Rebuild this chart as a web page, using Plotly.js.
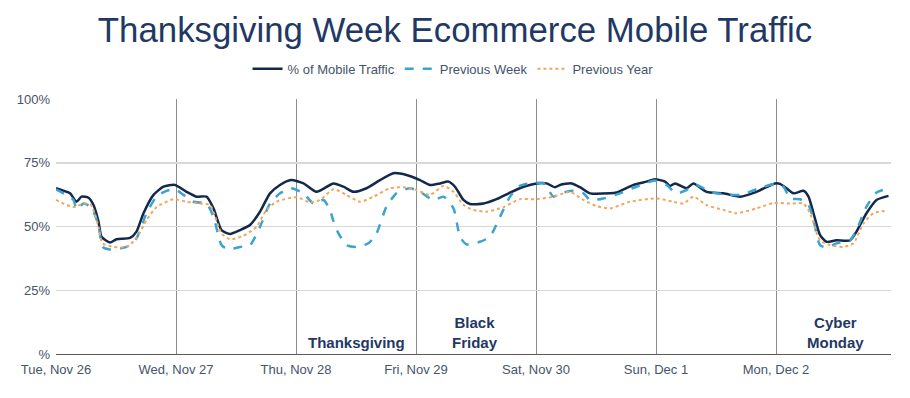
<!DOCTYPE html>
<html>
<head>
<meta charset="utf-8">
<script src="https://cdn.plot.ly/plotly-3.0.1.min.js"></script>
<style>html,body{margin:0;padding:0;background:#fff;}#chart{width:910px;height:398px;}</style>
</head>
<body>
<div id="chart"></div>
<script>
// hours since Tue, Nov 26 00:00
const dayLabels = ["Tue, Nov 26","Wed, Nov 27","Thu, Nov 28","Fri, Nov 29","Sat, Nov 30","Sun, Dec 1","Mon, Dec 2"];
const dayTicks = [0,24,48,72,96,120,144];
const yTickVals = [0,25,50,75,100];
const yTickText = ["%","25%","50%","75%","100%"];

const mobileHours = [0,2.8,4.1,5.1,6.5,7.5,8.5,9.1,10.8,12.1,14.8,16.1,17.5,19.5,21.5,23.8,26.1,28.1,30.1,31.5,33.1,34.8,36.8,38.8,40.8,42.8,44.8,47,49.5,52.1,55.5,57.5,59.5,62.1,64.8,67.5,70.1,72.8,74.8,76.8,78.5,79.8,81.5,82.8,85.5,88.1,90.8,93.5,96.1,98.1,99.8,100.8,103.1,104.8,106.8,110.8,112.1,115.5,118.1,119.8,121.8,122.8,123.8,126.1,127.5,130.1,133.5,136.8,140.1,143.8,144.8,146.1,147.5,149.5,150.5,151.5,152.8,154.1,156.1,158.8,160.1,162.1,164.1,166.5];
const mobileValues = [65.0,63.0,59.7,61.7,61.3,58.4,51.9,46.0,43.7,45.0,45.5,48.0,55.2,62.4,65.6,66.3,63.6,61.7,61.7,57.1,48.6,47.1,48.6,50.6,55.8,63.0,66.3,68.2,66.9,63.6,66.9,65.6,63.6,65.0,68.2,70.9,70.2,68.2,66.3,66.9,67.6,65.6,60.4,58.8,59.0,60.7,63.3,65.6,66.9,66.9,65.4,66.3,66.9,65.4,63.0,63.0,63.3,66.3,67.6,68.5,67.6,65.9,66.9,65.0,66.9,63.6,63.0,61.7,63.6,66.9,66.7,65.0,63.0,64.0,61.7,55.2,46.7,44.0,44.6,44.6,48.0,55.2,60.4,62.0];

const prevWeekHours = [0,3.5,4.1,5.5,7,8.5,9.3,10.8,14.1,16.1,18.1,20.1,22.1,23.8,25.5,27.5,30.1,31.5,33.1,34.5,36.8,38.8,40.8,42.8,44.8,47,49.5,51.5,53.5,54.8,55.5,56.5,58.1,60.1,62.5,64.1,66.1,68.1,70.8,72.8,75.5,77.5,79.5,80.8,82.1,84.8,86.8,88.8,90.8,92.8,94.8,97.5,99.5,100.8,103.5,105.5,106.8,109.5,112.8,116.1,119.8,122.1,124.1,126.1,128.1,130.8,133.5,136.8,140.1,143.8,145.5,146.8,148.8,150.5,151.5,152.8,154.1,156.1,158.8,160.1,162.1,164.1,166.5];
const prevWeekValues = [64.6,60.4,56.7,59.0,57.6,50.6,42.0,41.0,42.0,45.4,55.2,61.7,64.0,64.6,62.4,59.7,59.0,53.8,42.7,41.0,42.0,42.7,49.9,59.0,63.0,65.0,63.0,59.0,60.4,56.5,52.0,47.3,42.7,42.0,43.4,47.3,57.8,63.0,65.0,63.6,60.4,61.7,57.1,46.0,43.0,44.0,46.0,53.8,61.7,65.9,66.9,66.9,61.7,63.0,64.0,63.0,60.4,61.0,63.0,65.6,68.0,66.3,63.0,64.3,66.3,63.6,62.7,62.4,64.6,66.7,65.6,61.0,60.7,58.4,52.5,42.7,41.8,43.4,44.6,48.6,57.8,63.3,65.0];

const prevYearHours = [0,3.5,5.5,7,8.5,9.3,11.5,14.1,16.1,18.1,20.1,23.5,26.1,28.8,30.8,33.1,34.8,37.5,40.1,42.1,44.1,48.1,50.8,52.8,55.5,58.1,60.8,63.5,66.8,69.5,72.1,74.8,77.5,79.5,81.5,83.5,86.1,89.5,92.8,96.1,99.5,102.8,105.5,108.1,110.8,114.8,120.1,123.5,125.5,127.5,130.1,133.5,136.1,140.1,143.5,146.8,149.5,150.8,152.8,154.8,157.5,159.5,161.5,163.5,166.1];
const prevYearValues = [60.4,57.6,59.0,58.4,49.9,43.4,42.0,42.0,45.4,52.5,57.6,60.7,59.7,59.0,58.4,47.3,45.0,46.4,49.9,56.5,59.7,61.5,59.5,60.4,64.6,62.4,59.7,61.7,65.0,65.4,64.3,62.4,65.9,63.6,58.4,56.5,55.8,57.6,60.7,60.7,61.7,63.6,60.4,58.0,57.1,59.7,61.0,59.7,59.0,61.7,58.4,56.5,55.2,57.1,59.2,59.0,59.0,55.2,44.6,42.7,42.0,43.4,51.2,55.2,56.2];

const navy = "#13294b";
const textBlue = "#1f3864";
const axisText = "#44546a";
const FONT = "Liberation Sans, Arial, sans-serif";

const traces = [
  {x: mobileHours, y: mobileValues, name: "% of Mobile Traffic", type: "scatter", mode: "lines",
   line: {color: navy, width: 2.5, shape: "spline", smoothing: 0.6}},
  {x: prevWeekHours, y: prevWeekValues, name: "Previous Week", type: "scatter", mode: "lines",
   line: {color: "#3ba3d0", width: 2.5, dash: "dash", shape: "spline", smoothing: 0.6}},
  {x: prevYearHours, y: prevYearValues, name: "Previous Year", type: "scatter", mode: "lines",
   line: {color: "#f2a65a", width: 2, dash: "dot", shape: "spline", smoothing: 0.6}}
];

const layout = {
  width: 910, height: 398,
  margin: {l: 56, r: 19, t: 99, b: 44},
  paper_bgcolor: "#ffffff", plot_bgcolor: "#ffffff",
  font: {family: FONT, color: axisText, size: 13},
  title: {text: "Thanksgiving Week Ecommerce Mobile Traffic", font: {family: FONT, size: 34.8, color: textBlue},
          x: 0.5, xanchor: "center", y: 0.925, yanchor: "middle", yref: "container"},
  showlegend: true,
  legend: {orientation: "h", x: 0.4755, xanchor: "center", y: 1.118, yanchor: "middle",
           font: {family: FONT, size: 13, color: axisText}, traceorder: "normal"},
  xaxis: {range: [0, 167], tickmode: "array", tickvals: dayTicks, ticktext: dayLabels,
          showgrid: true, gridcolor: "#8c8c8c", gridwidth: 1, zeroline: false,
          showline: true, linecolor: "#595959", linewidth: 1, ticks: "", ticklabelstandoff: 3,
          tickfont: {family: FONT, size: 13, color: axisText}, fixedrange: true},
  yaxis: {range: [0, 100], tickmode: "array", tickvals: yTickVals, ticktext: yTickText,
          showgrid: true, gridcolor: "#d9d9d9", gridwidth: 1.5, zeroline: false, showline: false,
          ticks: "", ticklabelstandoff: 5, tickfont: {family: FONT, size: 13, color: axisText}, fixedrange: true},
  annotations: [
    {x: 60, y: 4.7, xref: "x", yref: "y", text: "<b>Thanksgiving</b>", showarrow: false,
     font: {family: FONT, size: 15, color: textBlue}, xanchor: "center", yanchor: "middle"},
    {x: 83.8, y: 8.6, xref: "x", yref: "y", text: "<b>Black<br>Friday</b>", showarrow: false,
     font: {family: FONT, size: 15, color: textBlue}, xanchor: "center", yanchor: "middle"},
    {x: 155.8, y: 8.6, xref: "x", yref: "y", text: "<b>Cyber<br>Monday</b>", showarrow: false,
     font: {family: FONT, size: 15, color: textBlue}, xanchor: "center", yanchor: "middle"}
  ]
};

Plotly.newPlot("chart", traces, layout, {displayModeBar: false, staticPlot: true});
</script>
</body>
</html>
